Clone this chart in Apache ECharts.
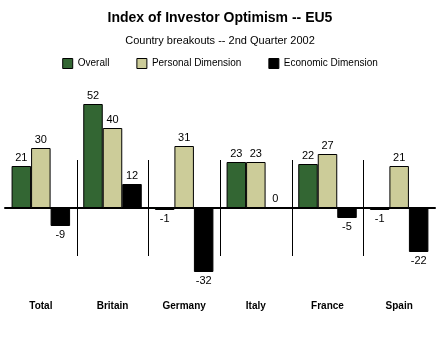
<!DOCTYPE html>
<html>
<head>
<meta charset="utf-8">
<script src="https://cdn.jsdelivr.net/npm/echarts@6/dist/echarts.min.js"></script>
<style>
html,body{margin:0;padding:0;background:#fff;}
#c{width:440px;height:350px;}
</style>
</head>
<body>
<div id="c"></div>
<script>
var titleText = 'Index of Investor Optimism -- EU5';
var subTitleText = 'Country breakouts -- 2nd Quarter 2002';
var categories = ['Total', 'Britain', 'Germany', 'Italy', 'France', 'Spain'];
var seriesNames = ['Overall', 'Personal Dimension', 'Economic Dimension'];
var overall = [21, 52, -1, 23, 22, -1];
var personal = [30, 40, 31, 23, 27, 21];
var economic = [-9, 12, -32, 0, -5, -22];
var separatorIdx = [1, 2, 3, 4, 5];
var separatorRange = [24, -24];

var colors = ['#336633', '#CCCC99', '#000000'];
var FONT = '"Liberation Sans", Arial, Helvetica, sans-serif';

function items(arr) {
  return arr.map(function (v) {
    return { value: v, label: { position: v < 0 ? 'bottom' : 'top' } };
  });
}

function barSeries(name, arr, color) {
  return {
    type: 'bar',
    name: name,
    xAxisIndex: 0,
    data: items(arr),
    barWidth: 19.5,
    barGap: '0%',
    itemStyle: { color: color, borderColor: '#000', borderWidth: 1 },
    label: {
      show: true,
      distance: 3,
      color: '#000',
      fontSize: 11,
      fontFamily: FONT
    },
    animation: false
  };
}

var chart = echarts.init(document.getElementById('c'), null, { renderer: 'canvas' });
chart.setOption({
  backgroundColor: '#fff',
  animation: false,
  title: [
    { text: titleText, left: 'center', top: 6,
      textStyle: { fontSize: 14, fontWeight: 'bold', color: '#000', fontFamily: FONT } },
    { text: subTitleText, left: 'center', top: 30,
      textStyle: { fontSize: 11, fontWeight: 'normal', color: '#000', fontFamily: FONT } }
  ],
  legend: {
    data: seriesNames,
    top: 53,
    left: 'center',
    itemWidth: 10,
    itemHeight: 10,
    itemGap: 27,
    icon: 'rect',
    textStyle: { fontSize: 10, color: '#000', fontFamily: FONT },
    itemStyle: { borderColor: '#000', borderWidth: 1 }
  },
  grid: { left: 5, right: 5, top: 88, bottom: 62, containLabel: false },
  xAxis: [
    {
      type: 'category',
      data: categories,
      position: 'bottom',
      axisLine: { show: false, onZero: false },
      axisTick: { show: false },
      splitLine: { show: false },
      axisLabel: { fontSize: 10, fontWeight: 'bold', color: '#000', fontFamily: FONT, margin: 13 }
    },
    {
      type: 'category',
      data: categories,
      position: 'bottom',
      axisLine: { show: true, onZero: true, lineStyle: { color: '#000', width: 2 } },
      axisTick: { show: false },
      axisLabel: { show: false },
      splitLine: { show: false }
    }
  ],
  yAxis: {
    type: 'value',
    min: -40,
    max: 60,
    show: false,
    splitLine: { show: false }
  },
  series: [
    barSeries(seriesNames[0], overall, colors[0]),
    barSeries(seriesNames[1], personal, colors[1]),
    barSeries(seriesNames[2], economic, colors[2]),
    {
      type: 'custom',
      name: 'separators',
      xAxisIndex: 0,
      data: separatorIdx.map(function (i) { return [i]; }),
      silent: true,
      renderItem: function (params, api) {
        var idx = api.value(0);
        var band = api.size([1, 0])[0];
        var p1 = api.coord([idx, separatorRange[0]]);
        var p2 = api.coord([idx, separatorRange[1]]);
        var x = Math.round(p1[0] - band / 2) + 0.5;
        return {
          type: 'line',
          shape: { x1: x, y1: p1[1], x2: x, y2: p2[1] },
          style: { stroke: '#000', lineWidth: 1 }
        };
      }
    }
  ]
});
</script>
</body>
</html>
